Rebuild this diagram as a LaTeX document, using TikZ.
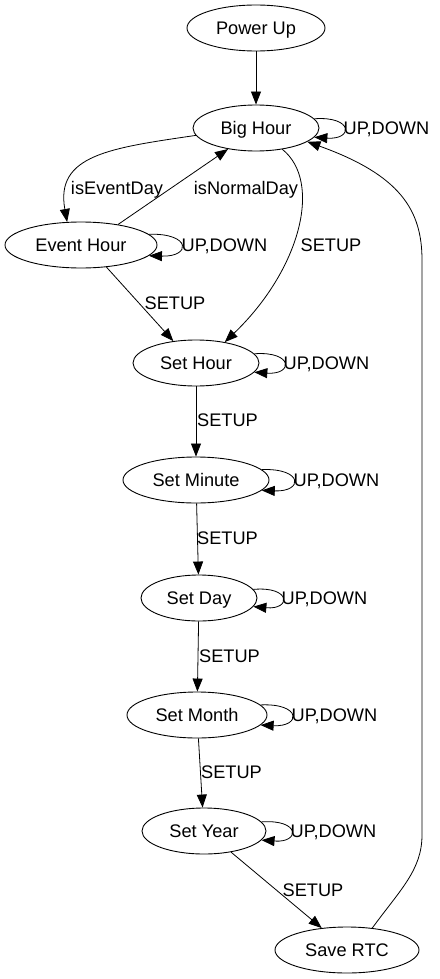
\documentclass[tikz,border=0pt]{standalone}
\usepackage{fontspec}
\setmainfont{Liberation Sans}
\usetikzlibrary{shapes.geometric,arrows.meta,calc}
\begin{document}
\begin{tikzpicture}[x=1pt,y=-1pt,
  st/.style={ellipse,draw,line width=0.9pt,minimum height=46pt,inner sep=0pt,text height=13pt,text depth=0pt,font=\fontsize{18.2}{20}\selectfont},
  tr/.style={-{Triangle[length=13pt,width=10pt]},line width=0.8pt},
  lbl/.style={font=\fontsize{18.2}{20}\selectfont,inner sep=0pt,text height=13pt,text depth=0pt}]
\useasboundingbox (0,0) rectangle (439,979);
\node[st,minimum width=138pt] (PU) at (256,28) {Power Up};
\node[st,minimum width=126pt] (BH) at (256,128) {Big Hour};
\node[st,minimum width=152pt] (EH) at (81,245) {Event Hour};
\node[st,minimum width=126pt] (SH) at (196,363) {Set Hour};
\node[st,minimum width=146pt] (SM) at (196,480) {Set Minute};
\node[st,minimum width=116pt] (SD) at (199,598) {Set Day};
\node[st,minimum width=140pt] (SMo) at (197,715) {Set Month};
\node[st,minimum width=124pt] (SY) at (204,831) {Set Year};
\node[st,minimum width=144pt] (SR) at (347,950) {Save RTC};

\draw[tr] (PU) -- (BH);
\draw[tr] (BH.187.4) .. controls (110,148) and (55,155) .. (EH.121.3);
\node[lbl] (l1) at (117,188) {isEventDay};
\draw[tr] (EH.29.6) -- (BH.217.2);
\node[lbl] (l2) at (246,188) {isNormalDay};
\draw[tr] (BH.-39.2) .. controls (323,182) and (300,270) .. (SH.36.9);
\node[lbl] (l3) at (331,245) {SETUP};
\draw[tr] (EH.-41.3) -- (SH.136.3);
\node[lbl] (l4) at (175,303) {SETUP};
\draw[tr] (SH) -- (SM);
\node[lbl,anchor=west] (l5) at (197,420) {SETUP};
\draw[tr] (SM) -- (SD);
\node[lbl,anchor=west] (l6) at (197,538) {SETUP};
\draw[tr] (SD) -- (SMo);
\node[lbl,anchor=west] (l7) at (199,656) {SETUP};
\draw[tr] (SMo) -- (SY);
\node[lbl,anchor=west] (l8) at (201,772) {SETUP};
\draw[tr] (SY.-38.4) -- (SR.139.6);
\node[lbl] (l9) at (313,890) {SETUP};
\coordinate (r1) at (422,835);
\coordinate (r2) at (422,260);
\draw[tr] (SR.41.5) .. controls (400,890) and (422,870) .. (r1) -- (r2)
  .. controls (422,210) and (400,175) .. (BH.-15.1);

\foreach \n in {BH,EH,SH,SM,SD,SMo,SY} {
  \draw[tr] (\n.9) .. controls ($(\n.east)+(34,-12)$) and ($(\n.east)+(34,12)$) .. (\n.-9);
  \node[lbl,anchor=west] (\n-l) at ($(\n.east)+(24,0)$) {UP,DOWN};
}
\end{tikzpicture}
\end{document}
